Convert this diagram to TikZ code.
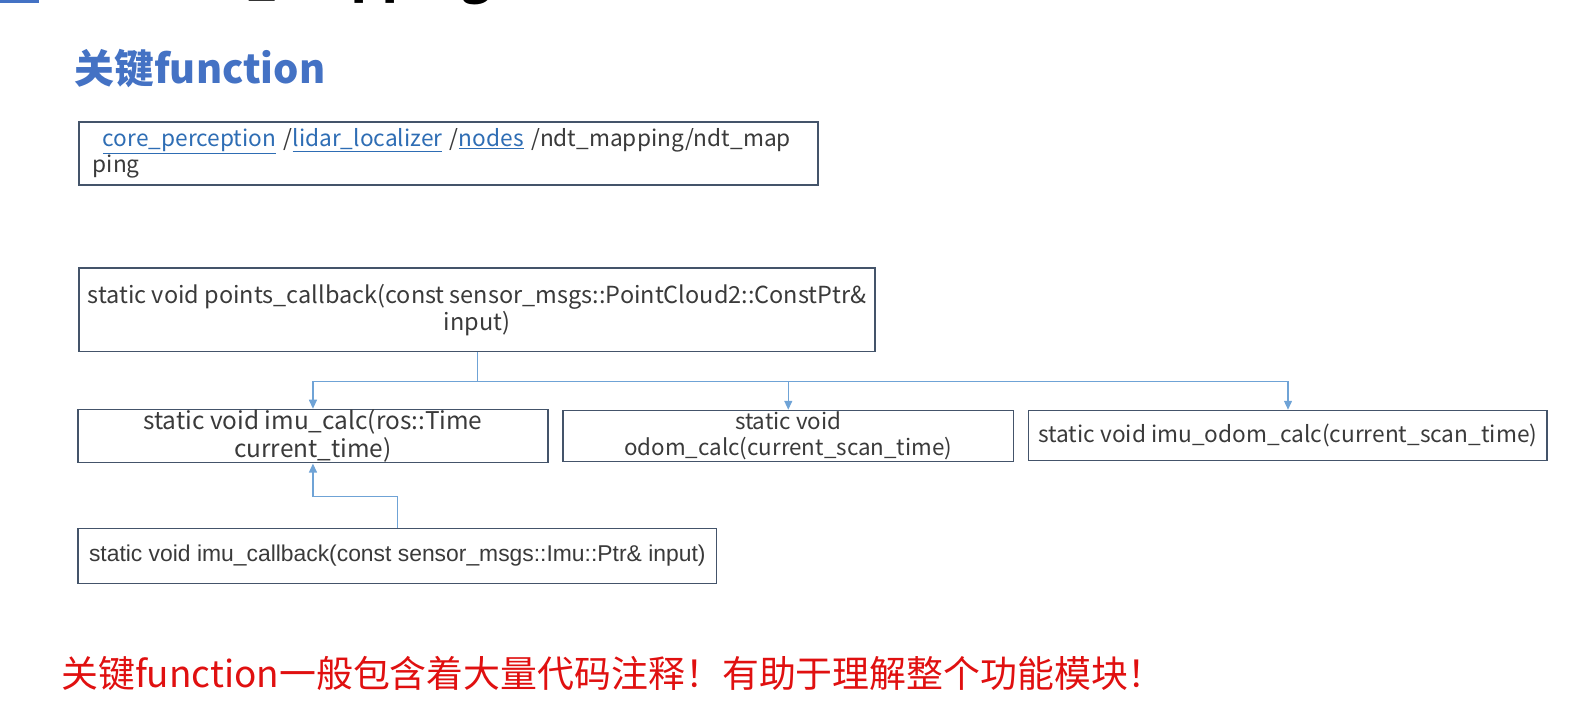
\documentclass[tikz,border=0pt]{standalone}
\usepackage{fontspec}
\setmainfont{Noto Sans CJK SC}
\newfontfamily\arialf{Liberation Sans}
\usetikzlibrary{arrows.meta}
\definecolor{boxc}{HTML}{44546A}
\definecolor{linkc}{HTML}{2E6DB4}
\definecolor{arrc}{HTML}{6FA3D6}
\definecolor{titlec}{HTML}{4472C4}
\definecolor{redc}{HTML}{E01010}
\definecolor{textc}{HTML}{3A3A3A}
\begin{document}
\begin{tikzpicture}[x=1pt,y=-1pt,scale=1.0166,every node/.append style={transform shape},
  box/.style={draw=boxc, line width=1.6pt, inner sep=0pt, anchor=north west, align=center, text=textc},
  conn/.style={draw=arrc, line width=1.3pt},
  tip/.style={-{Triangle[length=9pt,width=8pt]}}
]
\useasboundingbox (0,0) rectangle (1568,712.2);
\fill[titlec] (0,0) rectangle (38,3);
\begin{scope}
\clip (0,0) rectangle (1568,712.2);
\node[anchor=base west, font=\bfseries\fontsize{47}{47}\selectfont, inner sep=0pt] (slide) at (161,-6) {ndt\_mapping};
\end{scope}
\node[anchor=west, font=\bfseries\fontsize{39.2}{41}\selectfont, text=titlec, inner sep=0pt] (title) at (73,67) {关键function};

\node[box, minimum width=727, minimum height=62, text width=700, align=left, font=\fontsize{22.3}{26}\selectfont] (path) at (77,119)
  {\hspace*{10pt}{\color{linkc}\underline{core\_perception}} /{\color{linkc}\underline{lidar\_localizer}} /{\color{linkc}\underline{nodes}} /ndt\_mapping/ndt\_map\\ping};

\node[box, minimum width=783, minimum height=82, font=\fontsize{23.1}{27}\selectfont] (pc) at (77,263)
  {static void points\_callback(const sensor\_msgs::PointCloud2::ConstPtr\&\\input)};
\node[box, minimum width=462, minimum height=52, font=\fontsize{24}{28}\selectfont] (imucalc) at (76,402)
  {static void imu\_calc(ros::Time\\current\_time)};
\node[box, minimum width=443, minimum height=50, font=\fontsize{22}{25}\selectfont] (odom) at (553,403)
  {static void\\odom\_calc(current\_scan\_time)};
\node[box, minimum width=510, minimum height=49, font=\fontsize{22.3}{26}\selectfont] (imuodom) at (1011,403)
  {static void imu\_odom\_calc(current\_scan\_time)};
\node[box, minimum width=628, minimum height=54, font=\arialf\fontsize{22.5}{26}\selectfont] (imucb) at (76,519)
  {static void imu\_callback(const sensor\_msgs::Imu::Ptr\& input)};

\coordinate (bus) at (0,375);
\coordinate (mid) at (0,488);
\draw[conn] (pc.south) -- (pc.south |- bus);
\draw[conn,tip] (pc.south |- bus) -| (imucalc.north);
\draw[conn,tip] (pc.south |- bus) -| (odom.north);
\draw[conn,tip] (pc.south |- bus) -| (imuodom.north);
\draw[conn,tip] (imucb.north) -- (imucb.north |- mid) -| (imucalc.south);

\node[anchor=west, font=\fontsize{36.3}{38}\selectfont, text=redc, inner sep=0pt] (note) at (60,662)
  {关键function一般包含着大量代码注释！有助于理解整个功能模块！};
\end{tikzpicture}
\end{document}
